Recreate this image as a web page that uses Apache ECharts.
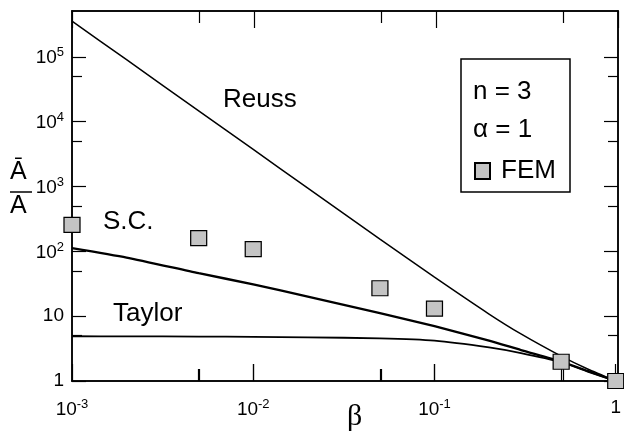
<!DOCTYPE html>
<html><head><meta charset="utf-8">
<script src="https://cdn.jsdelivr.net/npm/echarts@6/dist/echarts.min.js"></script>
<style>html,body{margin:0;padding:0;background:#fff}#c{width:624px;height:432px}</style>
</head><body><div id="c"></div>
<script>
// ---- data ----
const beta   = [0.001, 0.002, 0.005, 0.01, 0.02, 0.05, 0.1, 0.2, 0.3, 0.5, 0.7, 1];
const reuss  = [3.56e5, 9.04e4, 1.47e4, 3730, 946, 154, 40, 10.8, 5.33, 2.42, 1.53, 1];
const sc     = [112, 80, 46, 31, 20, 11.1, 7.0, 4.2, 3.0, 2.0, 1.43, 1];
const taylor = [4.9, 4.88, 4.85, 4.8, 4.72, 4.55, 4.2, 3.3, 2.7, 1.95, 1.4, 1];
const femBeta = [0.001, 0.005, 0.01, 0.05, 0.1, 0.5, 1];
const femVal  = [256, 160, 108, 27, 13.1, 1.98, 1];
const xMajorTicks = [0.001, 0.01, 0.1, 1];
const xMinorTicks = [0.005, 0.05, 0.5];
const yMajorTicks = [1, 10, 100, 1000, 10000, 100000];
const yMinorTicks = [5, 50, 500, 5000, 50000];
const xMin = 0.001, xMax = 1, yMin = 1, yMax = 5.1e5;
const majorTickTop = 1.83, minorTickTop = 1.53;   // tick heights expressed on the y scale

const FONT = 'Liberation Sans';
const chart = echarts.init(document.getElementById('c'), null, {renderer: 'canvas'});

function fmt(v) {
  const e = Math.round(Math.log10(v));
  if (e === 0) return '{m|1}';
  if (e === 1) return '{m|10}';
  return '{m|10}{s|' + (e < 0 ? '-' + (-e) : e) + '}';
}
const rich = {
  m: {fontSize: 19, fontFamily: FONT, color: '#000', verticalAlign: 'bottom'},
  s: {fontSize: 13, fontFamily: FONT, color: '#000', verticalAlign: 'bottom', padding: [0, 0, 8, 0]}
};
const lineStyle = {color: '#000', width: 1.5};

function xAx(g, pos, ticks, len, labels) {
  return {
    type: 'log', logBase: 10, min: xMin, max: xMax, position: pos, gridIndex: g,
    axisLine: {show: true, onZero: false, lineStyle},
    axisTick: {show: ticks !== null, inside: true, length: len, customValues: ticks || undefined, lineStyle: {color: '#000', width: 1.2}},
    axisLabel: {show: labels, customValues: xMajorTicks, formatter: fmt, rich, margin: 17},
    splitLine: {show: false}, minorTick: {show: false}
  };
}
function yAx(g, pos, ticks, len, labels) {
  return {
    type: 'log', logBase: 10, min: yMin, max: yMax, position: pos, gridIndex: g,
    axisLine: {show: true, onZero: false, lineStyle},
    axisTick: {show: true, inside: true, length: len, customValues: ticks, lineStyle: {color: '#000', width: 1.2}},
    axisLabel: {show: labels, customValues: yMajorTicks, formatter: fmt, rich, margin: 8, align: 'right'},
    splitLine: {show: false}, minorTick: {show: false}
  };
}

const gridBox = {left: 72, right: 6, top: 11, bottom: 51, containLabel: false};
const curveStyle = (w) => ({type: 'line', xAxisIndex: 0, yAxisIndex: 0, showSymbol: false, symbol: 'none',
  smooth: 0.2, lineStyle: {color: '#000', width: w}, z: 3, silent: true});
// inward ticks on the bottom edge as short segments in data coordinates
const tickSegs = (vals, top) => vals.map(v => [{coord: [v, yMin]}, {coord: [v, top]}]);

chart.setOption({
  animation: false,
  backgroundColor: '#fff',
  grid: [gridBox, gridBox, gridBox, gridBox],
  xAxis: [xAx(0, 'bottom', xMajorTicks, 17, true),
          xAx(1, 'top', xMajorTicks, 17, false), xAx(2, 'top', xMinorTicks, 12, false),
          xAx(3, 'bottom', xMinorTicks, 12, false)],
  yAxis: [yAx(0, 'left', yMajorTicks, 14, true), yAx(1, 'left', yMinorTicks, 10, false),
          yAx(2, 'right', yMajorTicks, 14, false), yAx(3, 'right', yMinorTicks, 10, false)],
  legend: {
    data: ['FEM'], left: 474, top: 158, itemWidth: 15, itemHeight: 16, padding: 0,
    textStyle: {fontSize: 26, fontFamily: FONT, color: '#000', padding: [0, 0, 0, 6]},
    selectedMode: false
  },
  series: [
    Object.assign(curveStyle(1.5), {name: 'Reuss', data: beta.map((b, i) => [b, reuss[i]]),
      markLine: {silent: true, symbol: ['none', 'none'], label: {show: false}, animation: false,
        lineStyle: {color: '#000', width: 1.2, type: 'solid'},
        data: tickSegs(xMajorTicks.slice(1, -1), majorTickTop).concat(tickSegs(xMinorTicks, minorTickTop))}}),
    Object.assign(curveStyle(2.3), {name: 'S.C.', data: beta.map((b, i) => [b, sc[i]])}),
    Object.assign(curveStyle(1.8), {name: 'Taylor', data: beta.map((b, i) => [b, taylor[i]])}),
    {name: 'FEM', type: 'scatter', xAxisIndex: 0, yAxisIndex: 0, symbol: 'rect', symbolSize: [16, 15],
     clip: false, z: 5,
     itemStyle: {color: '#c4c4c4', borderColor: '#000', borderWidth: 1.2, opacity: 1},
     data: femBeta.map((b, i) => [b, femVal[i]])}
  ],
  graphic: [
    {type: 'text', left: 223, top: 87, style: {text: 'Reuss', font: '26px ' + FONT, fill: '#000'}},
    {type: 'text', left: 103, top: 209, style: {text: 'S.C.', font: '26px ' + FONT, fill: '#000'}},
    {type: 'text', left: 113, top: 301, style: {text: 'Taylor', font: '26px ' + FONT, fill: '#000'}},
    {type: 'rect', shape: {x: 461, y: 59, width: 109, height: 133}, style: {fill: '#fff', stroke: '#000', lineWidth: 1.5}, z: 1},
    {type: 'text', left: 473, top: 79, style: {text: 'n = 3', font: '26px ' + FONT, fill: '#000'}, z: 2},
    {type: 'text', left: 473, top: 117, style: {text: 'α = 1', font: '26px ' + FONT, fill: '#000'}, z: 2},
    {type: 'text', left: 10, top: 160, style: {text: 'Ā', font: '25px ' + FONT, fill: '#000'}},
    {type: 'line', shape: {x1: 10, y1: 192, x2: 32, y2: 192}, style: {stroke: '#000', lineWidth: 1.5}},
    {type: 'text', left: 10, top: 194, style: {text: 'A', font: '25px ' + FONT, fill: '#000'}},
    {type: 'text', left: 347, top: 402, style: {text: 'β', font: '30px Liberation Serif', fill: '#000'}}
  ]
});
</script>
</body></html>
